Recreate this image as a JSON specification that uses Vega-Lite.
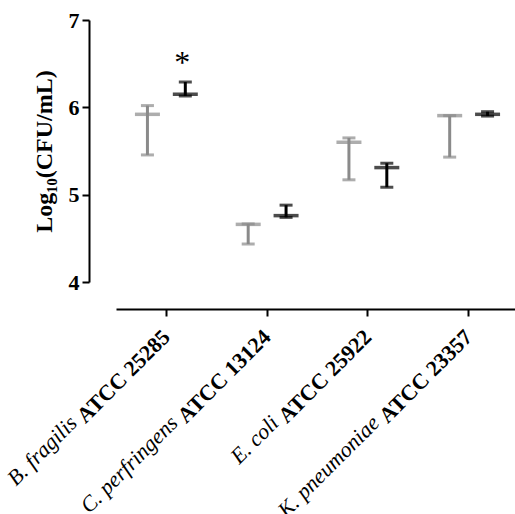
{
  "$schema": "https://vega.github.io/schema/vega-lite/v6.json",
  "width": 403,
  "height": 262,
  "autosize": "none",
  "padding": {"left": 116, "top": 20, "right": 0, "bottom": 232},
  "background": "white",
  "config": {
    "view": {"stroke": null},
    "axis": {
      "domainColor": "black", "domainWidth": 2, "tickColor": "black", "tickWidth": 2,
      "tickSize": 7, "grid": false, "labelColor": "black", "titleColor": "black",
      "labelFont": "Liberation Serif", "titleFont": "Liberation Serif"
    },
    "axisY": {"labelFontSize": 22, "labelFontWeight": "bold", "labelPadding": 3,
      "titleFontSize": 24, "titleFontWeight": "bold", "titlePadding": 12, "offset": 27}
  },
  "data": {
    "values": [
      {"strain": "B. fragilis ATCC 25285", "group": "A", "mean": 5.92, "lo": 5.455, "hi": 6.02, "star": "*"},
      {"strain": "B. fragilis ATCC 25285", "group": "B", "mean": 6.15, "lo": 6.13, "hi": 6.29, "star": "*"},
      {"strain": "C. perfringens ATCC 13124", "group": "A", "mean": 4.66, "lo": 4.435, "hi": 4.665, "star": ""},
      {"strain": "C. perfringens ATCC 13124", "group": "B", "mean": 4.76, "lo": 4.74, "hi": 4.88, "star": ""},
      {"strain": "E. coli ATCC 25922", "group": "A", "mean": 5.6, "lo": 5.17, "hi": 5.65, "star": ""},
      {"strain": "E. coli ATCC 25922", "group": "B", "mean": 5.31, "lo": 5.085, "hi": 5.36, "star": ""},
      {"strain": "K. pneumoniae ATCC 23357", "group": "A", "mean": 5.905, "lo": 5.43, "hi": 5.905, "star": ""},
      {"strain": "K. pneumoniae ATCC 23357", "group": "B", "mean": 5.92, "lo": 5.9, "hi": 5.95, "star": ""}
    ]
  },
  "layer": [
    {
      "mark": {"type": "rule", "strokeWidth": 3},
      "encoding": {
        "x": {"field": "strain", "type": "nominal", "sort": null,
          "scale": {"paddingInner": 0, "paddingOuter": 0},
          "axis": {"orient": "bottom", "title": null, "offset": 27, "labelAngle": -45, "labelAlign": "right", "labelBaseline": "middle",
            "labelFontSize": 22, "labelFontWeight": "bold", "labelPadding": 17,
            "labelExpr": "slice(datum.label, indexof(datum.label, 'ATCC'))"}},
        "xOffset": {"field": "group", "type": "nominal", "scale": {"paddingInner": 0, "paddingOuter": 0.33}},
        "y": {"field": "lo", "type": "quantitative", "title": "Log₁₀(CFU/mL)",
          "scale": {"domain": [4, 7], "nice": false, "zero": false},
          "axis": {"values": [4, 5, 6, 7], "format": "d"}},
        "y2": {"field": "hi"},
        "color": {"field": "group", "type": "nominal", "legend": null,
          "scale": {"domain": ["A", "B"], "range": ["#8a8a8a", "#000000"]}}
      }
    },
    {
      "mark": {"type": "tick", "size": 13, "thickness": 3},
      "encoding": {
        "x": {"field": "strain", "type": "nominal", "sort": null, "axis": null},
        "xOffset": {"field": "group", "type": "nominal"},
        "y": {"field": "hi", "type": "quantitative", "title": "Log₁₀(CFU/mL)", "axis": {"values": [4, 5, 6, 7], "format": "d"}},
        "color": {"field": "group", "type": "nominal", "legend": null}
      }
    },
    {
      "mark": {"type": "tick", "size": 13, "thickness": 3},
      "encoding": {
        "x": {"field": "strain", "type": "nominal", "sort": null, "axis": null},
        "xOffset": {"field": "group", "type": "nominal"},
        "y": {"field": "lo", "type": "quantitative", "title": "Log₁₀(CFU/mL)", "axis": {"values": [4, 5, 6, 7], "format": "d"}},
        "color": {"field": "group", "type": "nominal", "legend": null}
      }
    },
    {
      "mark": {"type": "tick", "size": 25, "thickness": 3.5},
      "encoding": {
        "x": {"field": "strain", "type": "nominal", "sort": null,
          "axis": {"orient": "bottom", "title": null, "offset": 27, "labelAngle": -45, "labelAlign": "right", "labelBaseline": "middle",
            "labelFontSize": 22, "labelFontStyle": "italic", "labelPadding": 110, "labelOffset": -93,
            "domain": false, "ticks": false,
            "labelExpr": "slice(datum.label, 0, indexof(datum.label, 'ATCC'))"}},
        "xOffset": {"field": "group", "type": "nominal"},
        "y": {"field": "mean", "type": "quantitative", "title": "Log₁₀(CFU/mL)", "axis": {"values": [4, 5, 6, 7], "format": "d"}},
        "color": {"field": "group", "type": "nominal", "legend": null}
      }
    },
    {
      "transform": [{"filter": "datum.star == '*' && datum.group == 'B'"}],
      "mark": {"type": "text", "fontSize": 32, "font": "Liberation Serif", "baseline": "middle", "dy": 4, "dx": -3},
      "encoding": {
        "x": {"field": "strain", "type": "nominal", "sort": null, "axis": null},
        "xOffset": {"field": "group", "type": "nominal"},
        "y": {"datum": 6.55, "type": "quantitative", "axis": {"values": [4, 5, 6, 7], "format": "d"}},
        "text": {"field": "star"},
        "color": {"value": "black"}
      }
    }
  ],
  "resolve": {"axis": {"x": "independent"}}
}
